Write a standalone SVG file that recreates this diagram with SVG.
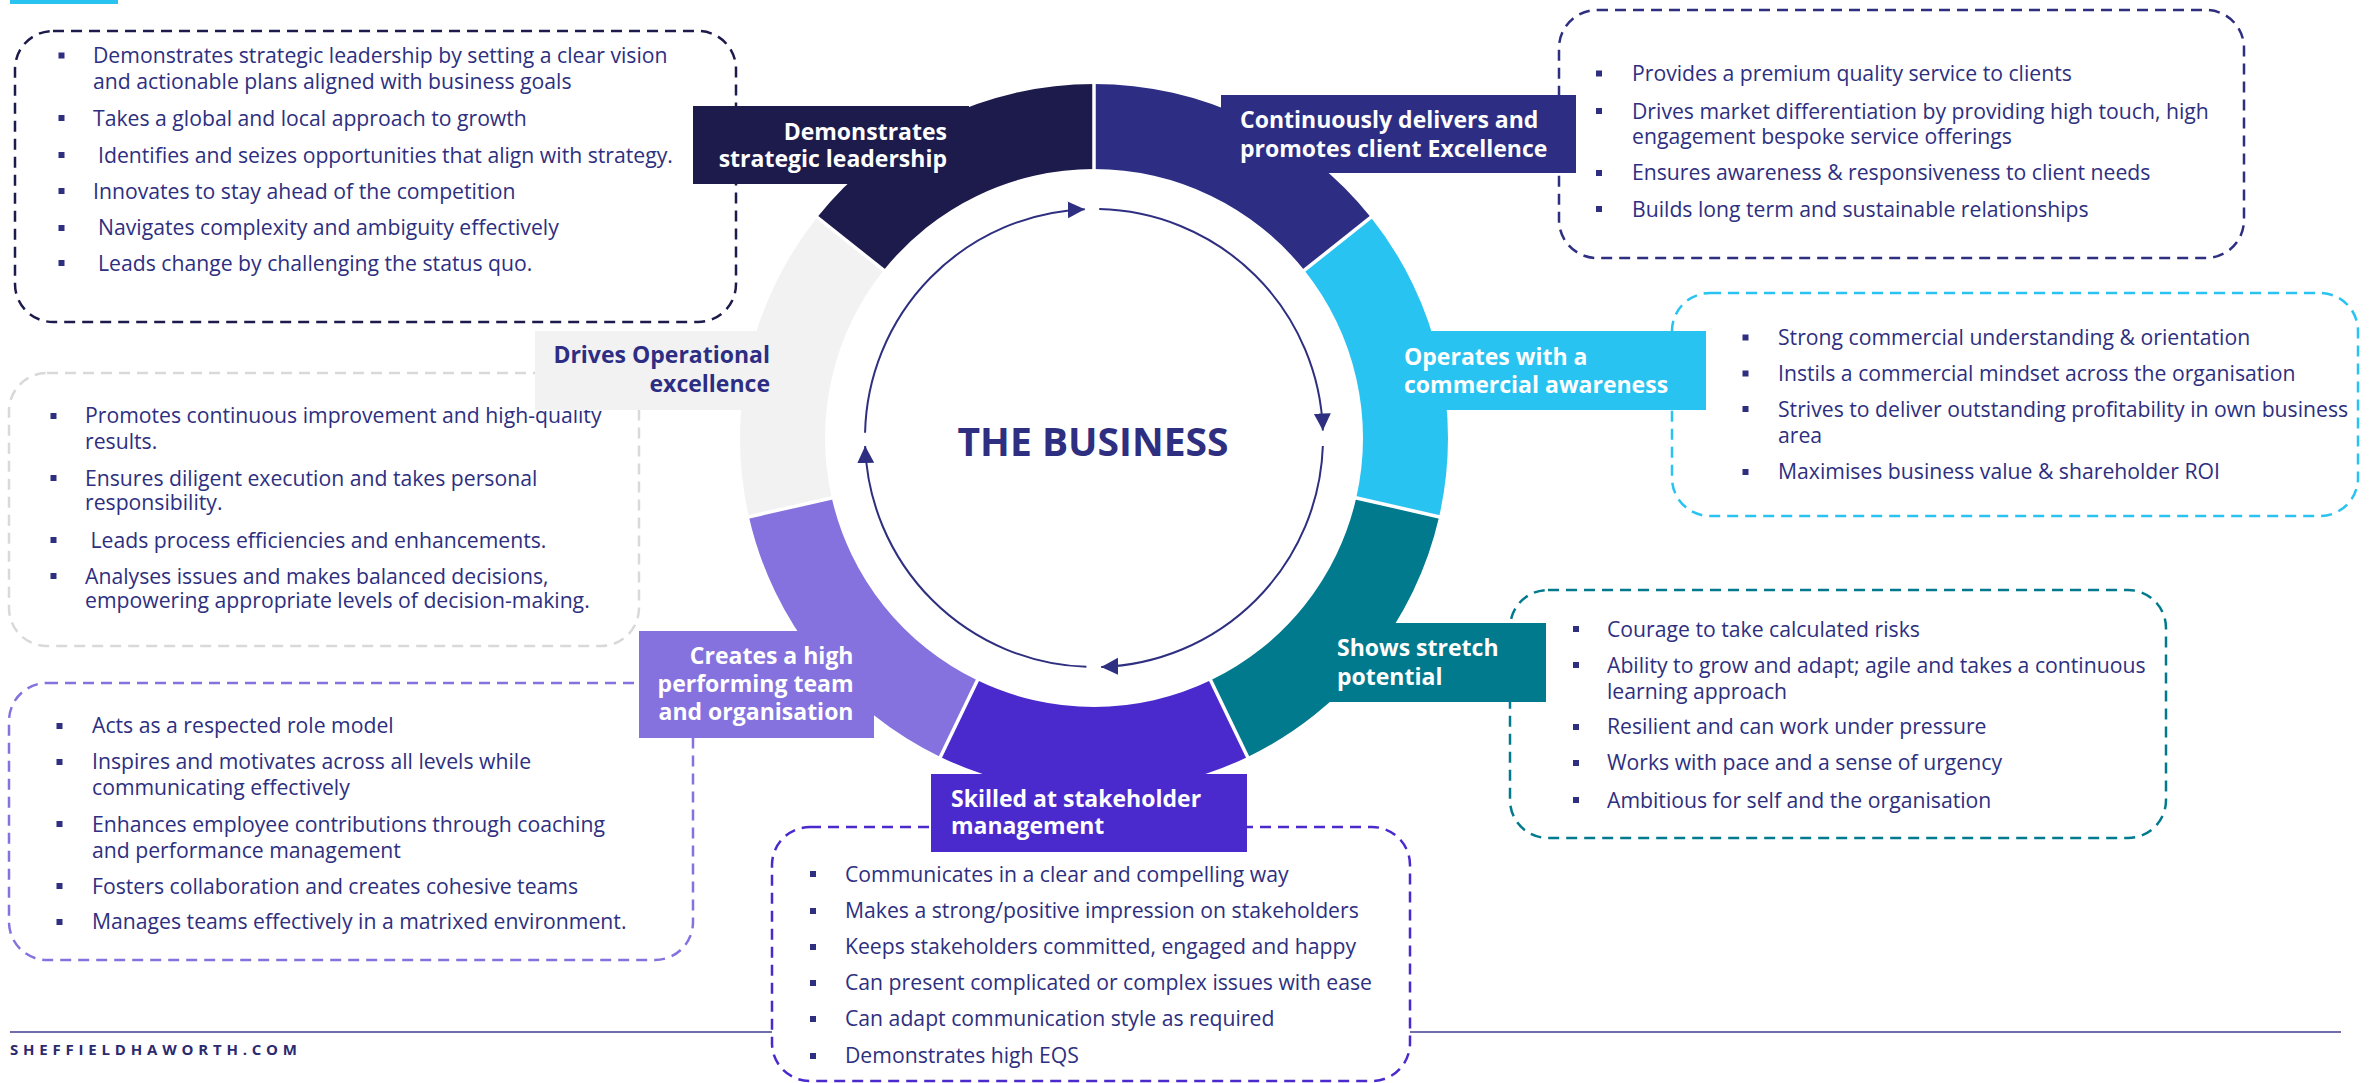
<svg xmlns="http://www.w3.org/2000/svg" width="2377" height="1083" viewBox="0 0 2377 1083">
<defs>
<style>
.d{font-family:"Open Sans","Liberation Sans",sans-serif;font-size:21.2px;fill:#2E2F80;}
.lb{font-family:"Open Sans","Liberation Sans",sans-serif;font-size:23px;font-weight:bold;fill:#FFFFFF;}
.box{fill:#FFFFFF;stroke-width:2.5;stroke-dasharray:11 7;}
.bul{fill:#2E2F80;}
.sep{stroke:#FFFFFF;stroke-width:3.5;}
.arc{fill:none;stroke:#2E2F80;stroke-width:2;}
</style>
<marker id="ah" markerUnits="userSpaceOnUse" markerWidth="20" markerHeight="18" refX="17" refY="8.5" orient="auto">
<path d="M0,0 L17,8.5 L0,17 z" fill="#2E2F80"/>
</marker>
</defs>
<rect width="2377" height="1083" fill="#FFFFFF"/>
<rect x="10" y="0" width="108" height="4" fill="#29C3F1"/>
<line x1="10" y1="1032" x2="2341" y2="1032" stroke="#6F6EAA" stroke-width="2"/>
<text x="10" y="1055" font-family="Open Sans, Liberation Sans, sans-serif" font-size="15" font-weight="bold" fill="#2B2A6E" letter-spacing="4.8">SHEFFIELDHAWORTH.COM</text>

<g id="desc-strategic">
<rect class="box" x="15" y="31" width="721" height="291" rx="38" stroke="#1D1B4C"/>
<rect class="bul" x="58.5" y="52.5" width="6" height="6"/><text class="d" x="93" y="63">Demonstrates strategic leadership by setting a clear vision</text>
<text class="d" x="93" y="89">and actionable plans aligned with business goals</text>
<rect class="bul" x="58.5" y="115" width="6" height="6"/><text class="d" x="93" y="125.5">Takes a global and local approach to growth</text>
<rect class="bul" x="58.5" y="152" width="6" height="6"/><text class="d" x="98" y="162.5">Identifies and seizes opportunities that align with strategy.</text>
<rect class="bul" x="58.5" y="188" width="6" height="6"/><text class="d" x="93" y="198.5">Innovates to stay ahead of the competition</text>
<rect class="bul" x="58.5" y="225" width="6" height="6"/><text class="d" x="98" y="235">Navigates complexity and ambiguity effectively</text>
<rect class="bul" x="58.5" y="260" width="6" height="6"/><text class="d" x="98" y="270.5">Leads change by challenging the status quo.</text>
</g>

<g id="desc-client">
<rect class="box" x="1559" y="10" width="685" height="248" rx="38" stroke="#2E2F80"/>
<rect class="bul" x="1596" y="70.5" width="6" height="6"/><text class="d" x="1632" y="81">Provides a premium quality service to clients</text>
<rect class="bul" x="1596" y="108" width="6" height="6"/><text class="d" x="1632" y="118.5">Drives market differentiation by providing high touch, high</text>
<text class="d" x="1632" y="143.5">engagement bespoke service offerings</text>
<rect class="bul" x="1596" y="170" width="6" height="6"/><text class="d" x="1632" y="180">Ensures awareness &amp; responsiveness to client needs</text>
<rect class="bul" x="1596" y="206" width="6" height="6"/><text class="d" x="1632" y="216.5">Builds long term and sustainable relationships</text>
</g>

<g id="desc-commercial">
<rect class="box" x="1672" y="293" width="686" height="223" rx="38" stroke="#29C3F1"/>
<rect class="bul" x="1742.5" y="334.5" width="6" height="6"/><text class="d" x="1778" y="345">Strong commercial understanding &amp; orientation</text>
<rect class="bul" x="1742.5" y="370.5" width="6" height="6"/><text class="d" x="1778" y="381">Instils a commercial mindset across the organisation</text>
<rect class="bul" x="1742.5" y="406" width="6" height="6"/><text class="d" x="1778" y="416.5">Strives to deliver outstanding profitability in own business</text>
<text class="d" x="1778" y="442.5">area</text>
<rect class="bul" x="1742.5" y="469" width="6" height="6"/><text class="d" x="1778" y="479">Maximises business value &amp; shareholder ROI</text>
</g>

<g id="desc-stretch">
<rect class="box" x="1510" y="590" width="656" height="248" rx="38" stroke="#027A8E"/>
<rect class="bul" x="1573" y="626" width="6" height="6"/><text class="d" x="1607" y="636.5">Courage to take calculated risks</text>
<rect class="bul" x="1573" y="662" width="6" height="6"/><text class="d" x="1607" y="672.5">Ability to grow and adapt; agile and takes a continuous</text>
<text class="d" x="1607" y="698.5">learning approach</text>
<rect class="bul" x="1573" y="724" width="6" height="6"/><text class="d" x="1607" y="734">Resilient and can work under pressure</text>
<rect class="bul" x="1573" y="760" width="6" height="6"/><text class="d" x="1607" y="770">Works with pace and a sense of urgency</text>
<rect class="bul" x="1573" y="797" width="6" height="6"/><text class="d" x="1607" y="807.5">Ambitious for self and the organisation</text>
</g>

<g id="desc-stakeholder">
<rect class="box" x="772" y="827" width="638" height="254" rx="38" stroke="#4B2ACD"/>
<rect class="bul" x="810" y="871" width="6" height="6"/><text class="d" x="845" y="881.5">Communicates in a clear and compelling way</text>
<rect class="bul" x="810" y="908" width="6" height="6"/><text class="d" x="845" y="918">Makes a strong/positive impression on stakeholders</text>
<rect class="bul" x="810" y="944" width="6" height="6"/><text class="d" x="845" y="954">Keeps stakeholders committed, engaged and happy</text>
<rect class="bul" x="810" y="980" width="6" height="6"/><text class="d" x="845" y="990">Can present complicated or complex issues with ease</text>
<rect class="bul" x="810" y="1016" width="6" height="6"/><text class="d" x="845" y="1026">Can adapt communication style as required</text>
<rect class="bul" x="810" y="1053" width="6" height="6"/><text class="d" x="845" y="1063">Demonstrates high EQS</text>
</g>

<g id="desc-operational">
<rect class="box" x="9" y="373" width="630" height="273" rx="38" stroke="#D9D9D9"/>
<rect class="bul" x="50.5" y="413" width="6" height="6"/><text class="d" x="85" y="423">Promotes continuous improvement and high-quality</text>
<text class="d" x="85" y="448.5">results.</text>
<rect class="bul" x="50.5" y="475" width="6" height="6"/><text class="d" x="85" y="485.5">Ensures diligent execution and takes personal</text>
<text class="d" x="85" y="510">responsibility.</text>
<rect class="bul" x="50.5" y="537" width="6" height="6"/><text class="d" x="90.5" y="547.5">Leads process efficiencies and enhancements.</text>
<rect class="bul" x="50.5" y="573" width="6" height="6"/><text class="d" x="85" y="583.5">Analyses issues and makes balanced decisions,</text>
<text class="d" x="85" y="608">empowering appropriate levels of decision-making.</text>
</g>

<g id="desc-team">
<rect class="box" x="9" y="683" width="684" height="277" rx="38" stroke="#8572DE"/>
<rect class="bul" x="56.5" y="723" width="6" height="6"/><text class="d" x="92" y="733">Acts as a respected role model</text>
<rect class="bul" x="56.5" y="759" width="6" height="6"/><text class="d" x="92" y="769">Inspires and motivates across all levels while</text>
<text class="d" x="92" y="795">communicating effectively</text>
<rect class="bul" x="56.5" y="821" width="6" height="6"/><text class="d" x="92" y="832">Enhances employee contributions through coaching</text>
<text class="d" x="92" y="857.5">and performance management</text>
<rect class="bul" x="56.5" y="883" width="6" height="6"/><text class="d" x="92" y="893.5">Fosters collaboration and creates cohesive teams</text>
<rect class="bul" x="56.5" y="919" width="6" height="6"/><text class="d" x="92" y="929">Manages teams effectively in a matrixed environment.</text>
</g>

<g id="ring">
<path d="M1094,84 A354,354 0 0 1 1370.77,217.28 L1304.31,270.28 A269,269 0 0 0 1094,169 Z" fill="#2D2E83"/>
<path d="M1370.77,217.28 A354,354 0 0 1 1439.12,516.77 L1356.26,497.86 A269,269 0 0 0 1304.31,270.28 Z" fill="#29C3F1"/>
<path d="M1439.12,516.77 A354,354 0 0 1 1247.59,756.94 L1210.71,680.36 A269,269 0 0 0 1356.26,497.86 Z" fill="#027A8E"/>
<path d="M1247.59,756.94 A354,354 0 0 1 940.41,756.94 L977.29,680.36 A269,269 0 0 0 1210.71,680.36 Z" fill="#4B2ACD"/>
<path d="M940.41,756.94 A354,354 0 0 1 748.88,516.77 L831.74,497.86 A269,269 0 0 0 977.29,680.36 Z" fill="#8572DE"/>
<path d="M748.88,516.77 A354,354 0 0 1 817.23,217.28 L883.69,270.28 A269,269 0 0 0 831.74,497.86 Z" fill="#F2F2F2"/>
<path d="M817.23,217.28 A354,354 0 0 1 1094,84 L1094,169 A269,269 0 0 0 883.69,270.28 Z" fill="#1D1B4C"/>
<line class="sep" x1="1094" y1="80" x2="1094" y2="172"/>
<line class="sep" x1="1373.9" y1="214.8" x2="1301.9" y2="272.2"/>
<line class="sep" x1="1443" y1="517.7" x2="1353.3" y2="497.2"/>
<line class="sep" x1="1249.3" y1="760.5" x2="1209.4" y2="677.7"/>
<line class="sep" x1="938.7" y1="760.5" x2="978.6" y2="677.7"/>
<line class="sep" x1="745" y1="517.7" x2="834.7" y2="497.2"/>
<line class="sep" x1="814.1" y1="214.8" x2="886.1" y2="272.2"/>
</g>

<g id="connectors">
<path class="arc" d="M865.06,432.8 A229,229 0 0 1 1084.81,209.19" marker-end="url(#ah)"/>
<path class="arc" d="M1099.2,209.06 A229,229 0 0 1 1322.87,430.41" marker-end="url(#ah)"/>
<path class="arc" d="M1322.86,445.99 A229,229 0 0 1 1101.19,666.89" marker-end="url(#ah)"/>
<path class="arc" d="M1086.41,666.87 A229,229 0 0 1 865.14,445.99" marker-end="url(#ah)"/>
</g>

<g id="center">
<text x="1093" y="456" text-anchor="middle" font-family="Open Sans, Liberation Sans, sans-serif" font-size="39" font-weight="bold" fill="#2E2F80">THE BUSINESS</text>
</g>

<g id="node-strategic">
<rect x="693" y="106" width="276" height="78" fill="#1D1B4C"/>
<text class="lb" x="947" y="139.5" text-anchor="end">Demonstrates</text>
<text class="lb" x="947" y="166.5" text-anchor="end">strategic leadership</text>
</g>
<g id="node-client">
<rect x="1221" y="95" width="355" height="78" fill="#2D2E83"/>
<text class="lb" x="1240" y="128">Continuously delivers and</text>
<text class="lb" x="1240" y="157">promotes client Excellence</text>
</g>
<g id="node-commercial">
<rect x="1385" y="331" width="321" height="79" fill="#29C3F1"/>
<text class="lb" x="1404" y="365">Operates with a</text>
<text class="lb" x="1404" y="393">commercial awareness</text>
</g>
<g id="node-stretch">
<rect x="1320" y="623" width="226" height="79" fill="#027A8E"/>
<text class="lb" x="1337" y="656">Shows stretch</text>
<text class="lb" x="1337" y="685">potential</text>
</g>
<g id="node-stakeholder">
<rect x="931" y="774" width="316" height="78" fill="#4B2ACD"/>
<text class="lb" x="951" y="807">Skilled at stakeholder</text>
<text class="lb" x="951" y="834">management</text>
</g>
<g id="node-team">
<rect x="639" y="631" width="235" height="107" fill="#8572DE"/>
<text class="lb" x="853.5" y="664" text-anchor="end">Creates a high</text>
<text class="lb" x="853.5" y="692" text-anchor="end">performing team</text>
<text class="lb" x="853.5" y="720" text-anchor="end">and organisation</text>
</g>
<g id="node-operational">
<rect x="535" y="331" width="265" height="79" fill="#F2F2F2"/>
<text class="lb" x="770" y="363" text-anchor="end" style="fill:#2D2E83">Drives Operational</text>
<text class="lb" x="770" y="392" text-anchor="end" style="fill:#2D2E83">excellence</text>
</g>
</svg>
